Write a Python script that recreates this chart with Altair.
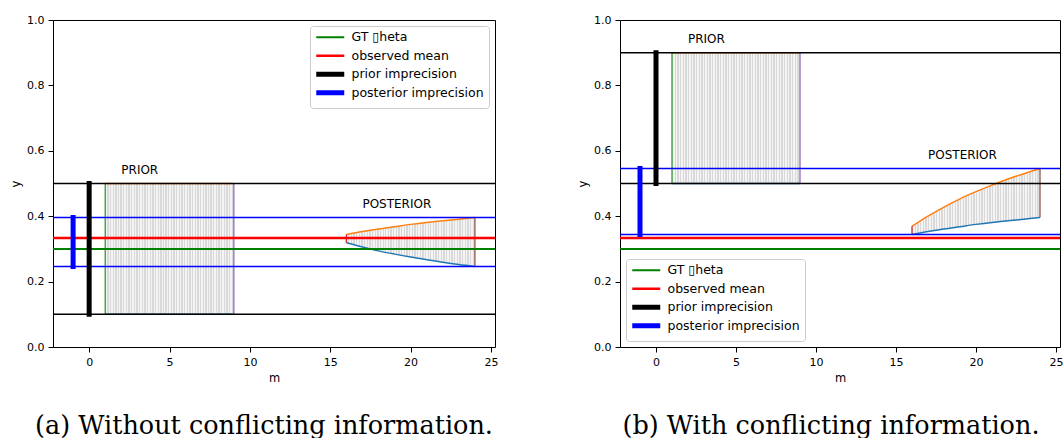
import altair as alt
import pandas as pd

# ---- values -------------------------------------------------------------
m_prior = [1, 9]                                   # prior strength range
m_post = [16, 17, 18, 19, 20, 21, 22, 23, 24]      # posterior strength
gt_theta = 0.3
observed_mean = 0.333

a_prior_bounds = [0.1, 0.5]
a_post_lower = [0.319, 0.306, 0.294, 0.284, 0.275, 0.267, 0.259, 0.252, 0.246]
a_post_upper = [0.344, 0.353, 0.361, 0.368, 0.375, 0.381, 0.386, 0.391, 0.396]

b_prior_bounds = [0.5, 0.9]
b_post_lower = [0.344, 0.353, 0.361, 0.368, 0.375, 0.381, 0.386, 0.391, 0.396]
b_post_upper = [0.369, 0.400, 0.428, 0.453, 0.475, 0.495, 0.514, 0.530, 0.546]

bar_m = [0, -1]                                    # prior / posterior imprecision bars
label_m = [2, 17]
label_text = ["PRIOR", "POSTERIOR"]
a_label_y = [0.53, 0.426]
b_label_y = [0.93, 0.576]

x_domain = [-2.25, 25.25]
x_ticks = [0, 5, 10, 15, 20, 25]
y_ticks = [0.0, 0.2, 0.4, 0.6, 0.8, 1.0]

series = ["GT \u25afheta", "observed mean", "prior imprecision", "posterior imprecision"]
series_colors = ["#008000", "#ff0000", "#000000", "#0000ff"]
series_widths = [2, 2.5, 5, 5]

edge_colors = ["#2ca02c", "#9467bd", "#d62728", "#8c564b"]
captions = ["(a) Without conflicting information.", "(b) With conflicting information."]


def hatch(n=80, line="#d9d9d9", gap="#f4f4f4", duty=0.5):
    """Thin vertical grey stripes used to shade a region."""
    stops = []
    for i in range(n):
        a, b, c = i / n, (i + duty) / n, (i + 1) / n
        stops += [
            alt.GradientStop(color=line, offset=a),
            alt.GradientStop(color=line, offset=b),
            alt.GradientStop(color=gap, offset=b),
            alt.GradientStop(color=gap, offset=c),
        ]
    return alt.LinearGradient(gradient="linear", stops=stops, x1=0, x2=1, y1=0, y2=0)


def key_width_expr():
    """Vega expression giving each legend key the stroke width of its series."""
    expr = str(series_widths[-1])
    for name, w in reversed(list(zip(series[:-1], series_widths[:-1]))):
        expr = f"datum.value === '{name}' ? {w} : ({expr})"
    return expr


def panel(prior_bounds, post_lower, post_upper, label_y, caption, orient, width, dx):
    xs = alt.Scale(domain=x_domain, nice=False, zero=False)
    ys = alt.Scale(domain=[0, 1], nice=False, zero=False)
    xa = alt.Axis(values=x_ticks, title="m", format="d", labelFlush=5, labelFlushOffset=7)
    ya = alt.Axis(values=y_ticks, title="y", format=".1f")

    def X(f):
        return alt.X(f, type="quantitative", scale=xs, axis=xa)

    def Y(f):
        return alt.Y(f, type="quantitative", scale=ys, axis=ya)

    # short horizontal stroke as legend key (28 px long at this symbol size)
    leg = alt.Legend(
        title=None, orient=orient, offset=6, symbolType="M-7,0H7", symbolSize=16,
        symbolStrokeWidth=alt.ExprRef(expr=key_width_expr()), symbolOffset=9,
        labelFont="DejaVu Sans", labelFontSize=12.5, labelColor="black", labelOffset=15,
        padding=5, rowPadding=-2.5, gridAlign="all", strokeColor="#cccccc",
        fillColor="rgba(255,255,255,0.8)", cornerRadius=3,
    )
    color = alt.Color("s:N", scale=alt.Scale(domain=series, range=series_colors), legend=leg)
    swidth = alt.StrokeWidth(
        "s:N", scale=alt.Scale(type="ordinal", domain=series, range=series_widths), legend=None
    )

    lo, hi = prior_bounds
    post_lo, post_hi = min(post_lower), max(post_upper)

    box_df = pd.DataFrame({"m0": [m_prior[0]], "m1": [m_prior[1]], "lo": [lo], "hi": [hi]})
    prior_df = pd.DataFrame({"m": m_prior, "lo": [lo, lo], "hi": [hi, hi]})
    post_df = pd.DataFrame({"m": m_post, "lo": post_lower, "hi": post_upper})
    edge_df = pd.DataFrame({
        "m": [m_prior[0], m_prior[1], m_post[0], m_post[-1]],
        "lo": [lo, lo, post_lower[0], post_lower[-1]],
        "hi": [hi, hi, post_upper[0], post_upper[-1]],
        "c": edge_colors,
    })
    prior_lines = pd.DataFrame({"v": [lo, hi]})
    post_lines = pd.DataFrame({"v": [post_lo, post_hi]})
    ref_df = pd.DataFrame({"v": [gt_theta, observed_mean], "s": series[:2]})
    bar_df = pd.DataFrame({"m": bar_m, "lo": [lo, post_lo], "hi": [hi, post_hi], "s": series[2:]})
    text_df = pd.DataFrame({"m": label_m, "y": label_y, "t": label_text})

    prior_shade = alt.Chart(box_df).mark_rect(fill=hatch()).encode(
        x=X("m0"), x2="m1", y=Y("lo"), y2="hi"
    )
    post_shade = alt.Chart(post_df).mark_area(fill=hatch(), interpolate="monotone").encode(
        x=X("m"), y=Y("lo"), y2="hi"
    )
    prior_low = alt.Chart(prior_df).mark_line(color="#1f77b4", strokeWidth=1.5).encode(x=X("m"), y=Y("lo"))
    prior_up = alt.Chart(prior_df).mark_line(color="#ff7f0e", strokeWidth=1.5).encode(x=X("m"), y=Y("hi"))
    post_low = alt.Chart(post_df).mark_line(color="#1f77b4", strokeWidth=1.5, interpolate="monotone").encode(
        x=X("m"), y=Y("lo")
    )
    post_up = alt.Chart(post_df).mark_line(color="#ff7f0e", strokeWidth=1.5, interpolate="monotone").encode(
        x=X("m"), y=Y("hi")
    )
    edges = alt.Chart(edge_df).mark_rule(strokeWidth=1.3).encode(
        x=X("m"), y=Y("lo"), y2="hi", stroke=alt.Stroke("c:N", scale=None, legend=None)
    )
    black_lines = alt.Chart(prior_lines).mark_rule(color="black", strokeWidth=1.5).encode(y=Y("v"))
    blue_lines = alt.Chart(post_lines).mark_rule(color="#0000ff", strokeWidth=1.5).encode(y=Y("v"))
    refs = alt.Chart(ref_df).mark_rule().encode(y=Y("v"), color=color, strokeWidth=swidth)
    bars = alt.Chart(bar_df).mark_rule(strokeCap="square").encode(
        x=X("m"), y=Y("lo"), y2="hi", color=color, strokeWidth=swidth
    )
    texts = alt.Chart(text_df).mark_text(
        align="left", baseline="alphabetic", font="DejaVu Sans", fontSize=12, color="black"
    ).encode(x=X("m"), y=Y("y"), text="t:N")

    return alt.layer(
        prior_shade, post_shade, prior_low, prior_up, post_low, post_up, edges,
        black_lines, blue_lines, refs, bars, texts,
    ).properties(
        width=width,
        height=327,
        title=alt.TitleParams(
            text=caption, orient="bottom", anchor="middle", frame="group",
            font="DejaVu Serif", fontSize=25.5, fontWeight="normal", color="black",
            offset=30, dx=dx,
        ),
    )


left = panel(a_prior_bounds, a_post_lower, a_post_upper, a_label_y, captions[0], "top-right", 442, -10)
right = panel(b_prior_bounds, b_post_lower, b_post_upper, b_label_y, captions[1], "bottom-left", 440, -9)

chart = (
    alt.hconcat(left, right, spacing=125, bounds="flush")
    .resolve_scale(color="independent", strokeWidth="independent")
    .properties(padding={"left": 10, "top": 13, "right": 0, "bottom": 0}, background="white")
    .configure_view(stroke="black", strokeWidth=1)
    .configure_axis(
        domain=False, grid=False, tickColor="black", tickSize=5, tickWidth=1,
        labelFont="DejaVu Sans", labelFontSize=11, labelColor="black", labelPadding=4,
        titleFont="DejaVu Sans", titleFontSize=11.5, titleFontWeight="normal",
        titleColor="black", titlePadding=5,
    )
)

chart.save("out.html", embed_options={"renderer": "svg", "actions": False})
